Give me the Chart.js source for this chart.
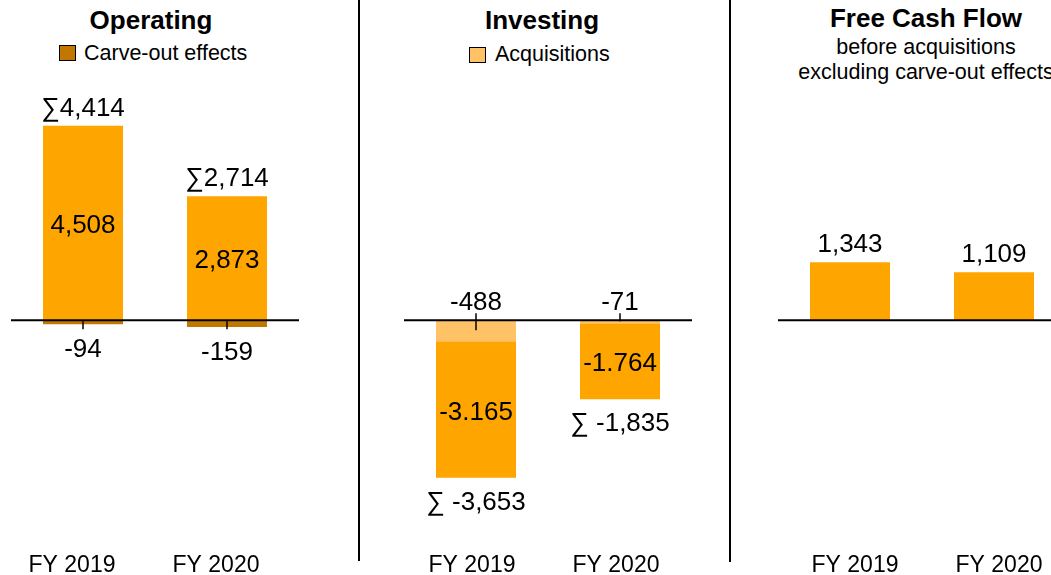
<!DOCTYPE html>
<html>
<head>
<meta charset="utf-8">
<script src="https://cdn.jsdelivr.net/npm/chart.js@4.4.1/dist/chart.umd.min.js"></script>
<style>
  html, body { margin:0; padding:0; background:#fff; overflow:hidden; width:1051px; height:575px; }
  body { position:relative; font-family:'Liberation Sans', Arial, sans-serif; color:#000; }
  .abs { position:absolute; }
  .title { font-weight:bold; font-size:26px; line-height:30px; text-align:center; white-space:nowrap; }
  .leg { font-size:21.5px; line-height:24px; white-space:nowrap; }
  .box { width:15px; height:14px; border:1.5px solid #000; }
  .sep { background:#000; width:2px; }
  canvas { position:absolute; top:0; }
</style>
</head>
<body>
<div class="abs title" style="left:51px;width:200px;top:5px;">Operating</div>
<div class="abs box" style="left:59px;top:45px;background:#C27800;"></div>
<div class="abs leg" style="left:84px;top:41px;">Carve-out effects</div>

<div class="abs title" style="left:442px;width:200px;top:5px;">Investing</div>
<div class="abs box" style="left:469px;top:47px;background:#FFC266;"></div>
<div class="abs leg" style="left:495px;top:42px;">Acquisitions</div>

<div class="abs title" style="left:776px;width:300px;top:3px;">Free Cash Flow</div>
<div class="abs leg" style="left:776px;width:300px;top:35px;text-align:center;">before acquisitions</div>
<div class="abs leg" style="left:776px;width:300px;top:60px;text-align:center;">excluding carve-out effects</div>

<div class="abs sep" style="left:358px;top:0;height:561px;"></div>
<div class="abs sep" style="left:729px;top:0;height:562px;"></div>

<canvas id="c1" width="359" height="575" style="left:0px;"></canvas>
<canvas id="c2" width="369" height="575" style="left:360px;"></canvas>
<canvas id="c3" width="334" height="575" style="left:732px;"></canvas>

<script>
// ---- data ----
const years = ['FY 2019', 'FY 2020'];
const opMain = [4508, 2873];
const opCarve = [-94, -159];
const opTotal = [4414, 2714];
const invAcq = [-488, -71];
const invMain = [-3165, -1764];
const invTotal = [-3653, -1835];
const fcfValues = [1343, 1109];

const ORANGE = '#FFA500';
const DARK = '#C27800';
const LIGHT = '#FFC266';
const FONT = "'Liberation Sans', Arial, sans-serif";

function fmt(v, sep) {
  sep = sep || ',';
  const s = Math.abs(v).toString().replace(/\B(?=(\d{3})+(?!\d))/g, sep);
  return (v < 0 ? '-' : '') + s;
}
function txt(ctx, t, x, y) {
  ctx.save();
  ctx.font = '26px ' + FONT;
  ctx.fillStyle = '#000';
  ctx.textAlign = 'center';
  ctx.textBaseline = 'middle';
  ctx.fillText(t, x, y + 3);
  ctx.restore();
}
function zeroLine(chart, tickFn) {
  const ctx = chart.ctx, a = chart.chartArea;
  const y0 = chart.scales.y.getPixelForValue(0);
  ctx.save();
  ctx.strokeStyle = '#000';
  ctx.lineWidth = 2;
  ctx.beginPath();
  ctx.moveTo(a.left, y0); ctx.lineTo(a.right, y0);
  ctx.stroke();
  if (tickFn) {
    ctx.lineWidth = 1.5;
    chart.getDatasetMeta(0).data.forEach((bar, i) => {
      const [t, b] = tickFn(i);
      ctx.beginPath();
      ctx.moveTo(bar.x, y0 + t); ctx.lineTo(bar.x, y0 + b);
      ctx.stroke();
    });
  }
  ctx.restore();
  return y0;
}

function baseOptions(padL, padR, labelOffset) {
  return {
    responsive: false,
    animation: false,
    devicePixelRatio: 1,
    layout: { padding: { left: padL, right: padR, top: 0, bottom: 0 } },
    plugins: { legend: { display: false }, tooltip: { enabled: false }, title: { display: false } },
    scales: {
      x: {
        stacked: true,
        grid: { display: false, drawTicks: false },
        border: { display: false },
        ticks: { color: '#000', font: { family: FONT, size: 23 }, padding: 17, maxRotation: 0, labelOffset: labelOffset },
        afterFit: (s) => { s.height = 40; }
      },
      y: { stacked: true, display: false, min: -4980, max: 7420 }
    }
  };
}
const barCommon = { barPercentage: 80 / 144, categoryPercentage: 1, borderWidth: 0 };

// ---- Operating ----
new Chart(document.getElementById('c1'), {
  type: 'bar',
  data: {
    labels: years,
    datasets: [
      Object.assign({ label: 'Operating', data: opMain, backgroundColor: ORANGE }, barCommon),
      Object.assign({ label: 'Carve-out effects', data: opCarve, backgroundColor: DARK }, barCommon)
    ]
  },
  options: baseOptions(11, 60, -11),
  plugins: [{
    id: 'opLabels',
    afterDatasetsDraw(chart) {
      zeroLine(chart, () => [1, 9]);
      const ctx = chart.ctx;
      chart.getDatasetMeta(0).data.forEach((bar, i) => {
        txt(ctx, fmt(opMain[i]), bar.x, (bar.y + bar.base) / 2);
        txt(ctx, '\u2211' + fmt(opTotal[i]), bar.x, bar.y - 20);
      });
      chart.getDatasetMeta(1).data.forEach((bar, i) => {
        txt(ctx, fmt(opCarve[i]), bar.x, bar.y + 23);
      });
    }
  }]
});

// ---- Investing ----
new Chart(document.getElementById('c2'), {
  type: 'bar',
  data: {
    labels: years,
    datasets: [
      Object.assign({ label: 'Acquisitions', data: invAcq, backgroundColor: LIGHT }, barCommon),
      Object.assign({ label: 'Investing', data: invMain, backgroundColor: ORANGE }, barCommon)
    ]
  },
  options: baseOptions(44, 37, -4),
  plugins: [{
    id: 'invLabels',
    afterDatasetsDraw(chart) {
      const y0 = zeroLine(chart, (i) => i === 0 ? [-7, 10] : [-7, 1]);
      const ctx = chart.ctx;
      chart.getDatasetMeta(0).data.forEach((bar, i) => {
        txt(ctx, fmt(invAcq[i]), bar.x, y0 - 20);
      });
      chart.getDatasetMeta(1).data.forEach((bar, i) => {
        txt(ctx, fmt(invMain[i], '.'), bar.x, (bar.y + bar.base) / 2);
        txt(ctx, '\u2211 ' + fmt(invTotal[i]), bar.x, bar.y + 22);
      });
    }
  }]
});

// ---- Free Cash Flow ----
new Chart(document.getElementById('c3'), {
  type: 'bar',
  data: {
    labels: years,
    datasets: [
      Object.assign({ label: 'Free Cash Flow', data: fcfValues, backgroundColor: ORANGE }, barCommon)
    ]
  },
  options: baseOptions(46, 0, 5),
  plugins: [{
    id: 'fcfLabels',
    afterDatasetsDraw(chart) {
      zeroLine(chart, null);
      const ctx = chart.ctx;
      chart.getDatasetMeta(0).data.forEach((bar, i) => {
        txt(ctx, fmt(fcfValues[i]), bar.x, bar.y - 20);
      });
    }
  }]
});
</script>
</body>
</html>
